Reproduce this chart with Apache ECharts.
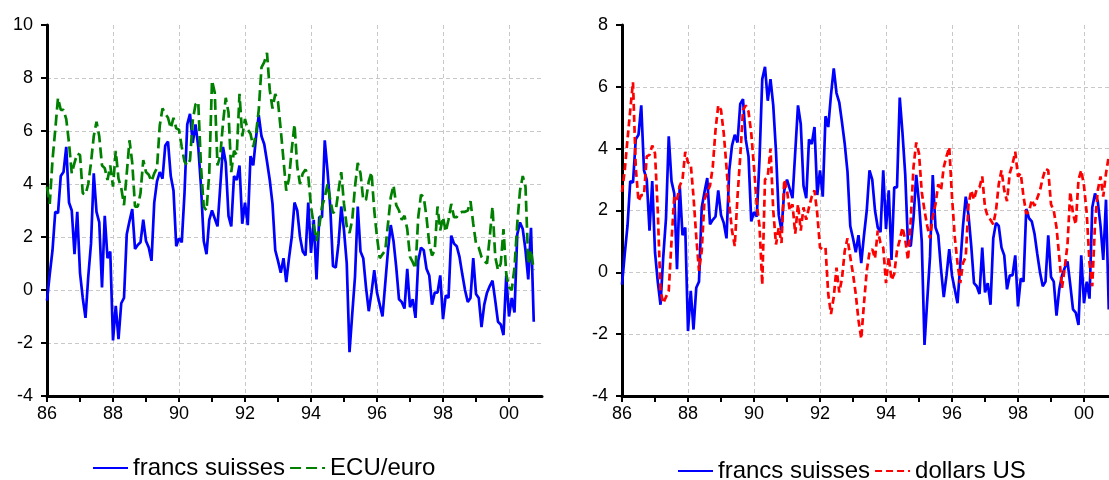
<!DOCTYPE html>
<html>
<head>
<meta charset="utf-8">
<title>francs suisses / ECU-euro / dollars US</title>
<script src="https://cdn.jsdelivr.net/npm/echarts@6.0.0/dist/echarts.min.js"></script>
<style>
	html, body{
		margin: 0;
		padding: 0;
		background: #fff;
	}
	#main{
		width: 1109px;
		height: 480px;
	}
</style>
</head>
<body>
<div id="main"></div>
<script type="text/javascript">
// séries mensuelles, janvier 1986 -> octobre 2000 (178 mois)
var startYear = 86;

var chf = [-0.4,0.6,1.5,2.95,2.9,4.3,4.45,5.4,3.3,3.0,
	1.35,2.95,0.65,-0.3,-1.05,0.5,1.75,4.4,2.95,2.55,
	0.1,2.8,1.2,1.45,-1.9,-0.6,-1.85,-0.5,-0.3,2.1,
	2.6,3.05,1.55,1.7,1.8,2.65,1.85,1.6,1.1,3.3,
	4.1,4.45,4.2,5.45,5.6,4.3,3.75,1.65,1.95,1.8,
	3.65,6.25,6.65,5.55,6.25,5.4,3.9,1.85,1.35,2.65,
	3.0,2.7,2.4,3.9,5.4,4.8,2.8,2.4,4.3,4.15,
	4.7,2.5,3.3,2.45,5.05,4.7,5.75,6.6,5.8,5.5,
	4.85,4.15,3.25,1.5,1.1,0.65,1.2,0.3,1.2,2.0,
	3.3,3.0,2.0,1.45,1.3,3.3,1.4,2.65,0.4,2.75,
	2.75,5.65,4.5,3.15,0.9,0.85,1.75,3.15,2.25,1.0,
	-2.35,-0.9,0.5,3.15,1.45,1.2,0.1,-0.8,-0.1,0.75,
	-0.1,-0.55,-1.0,0.25,1.5,2.45,1.85,0.85,-0.35,-0.45,
	-0.7,0.8,-0.65,-0.35,-1.05,1.1,1.6,1.5,0.8,0.55,
	-0.55,-0.1,-0.1,0.55,-1.1,-0.2,-0.3,2.05,1.75,1.65,
	1.25,0.6,0.0,-0.45,-0.3,1.2,-0.15,-0.3,-1.4,-0.55,
	-0.1,0.15,0.35,-0.4,-1.2,-1.3,-1.7,0.55,-1.0,-0.3,
	-0.85,2.1,2.55,2.3,1.5,0.4,2.35,-1.2];

var ecu = [3.9,3.25,4.9,6.05,7.25,6.8,6.8,6.45,5.55,4.4,
	4.8,5.15,5.1,3.65,3.6,4.0,4.8,5.8,6.35,5.8,
	4.7,4.6,4.15,4.7,3.9,5.25,4.2,3.85,3.2,4.4,
	5.65,4.8,3.15,3.15,3.65,4.9,4.45,4.35,4.1,4.4,
	4.6,6.2,6.85,6.65,6.5,6.1,6.5,6.1,6.05,5.4,
	4.85,4.7,4.9,6.4,7.0,7.1,4.65,3.15,3.0,4.4,
	7.9,7.45,4.7,5.05,6.3,7.25,6.7,4.45,5.25,5.1,
	7.4,5.8,6.45,6.05,5.9,5.4,5.9,6.8,8.4,8.6,
	8.95,7.55,6.85,7.4,7.1,6.05,4.9,3.75,4.2,5.3,
	6.25,4.65,4.0,4.4,4.55,4.3,3.15,2.45,1.85,2.4,
	3.15,3.5,4.0,3.4,2.9,3.0,3.75,4.45,3.25,2.4,
	2.15,2.65,3.9,4.8,4.4,3.4,3.4,4.1,4.45,3.0,
	2.0,1.2,1.35,1.5,2.5,3.5,3.95,3.2,3.0,2.65,
	2.8,2.3,1.25,1.05,0.8,2.75,3.6,3.5,2.75,1.75,
	1.3,1.5,3.15,2.25,2.75,2.2,2.65,3.25,2.75,2.75,
	2.9,2.95,2.95,3.0,3.35,2.5,1.75,1.6,1.25,1.1,
	1.0,2.0,3.15,1.25,0.75,1.0,2.3,0.6,0.1,0.0,
	0.85,2.5,3.75,4.3,3.9,1.0,1.5,0.75];

var usd = [2.6,3.3,4.3,5.25,6.15,3.4,2.3,2.5,2.5,3.75,
	3.8,4.1,3.85,2.0,-0.6,-1.0,-0.8,-0.6,1.0,2.45,
	2.35,2.8,3.0,3.9,3.55,3.5,2.45,1.15,0.05,0.7,
	2.35,2.6,2.8,3.4,4.6,5.4,5.25,4.5,3.4,2.2,
	1.35,0.85,2.45,3.75,5.25,5.4,5.2,4.5,3.4,2.2,
	1.5,-0.4,3.0,3.1,4.0,2.0,0.9,1.45,0.95,3.0,
	2.65,2.0,2.2,1.25,2.2,1.35,2.1,1.7,2.1,2.45,
	2.65,1.9,0.8,0.75,0.8,-0.7,-1.35,-0.8,0.15,-0.65,
	-0.2,0.7,1.1,0.5,-0.05,-0.7,-1.55,-2.15,-1.0,0.05,
	0.65,0.75,0.45,1.35,0.95,0.8,-0.35,0.5,-0.25,-0.05,
	0.7,1.05,1.45,1.05,0.4,1.7,3.4,4.2,3.85,2.6,
	2.0,1.5,1.1,1.8,2.2,2.85,2.65,3.4,3.75,4.05,
	2.45,1.15,0.3,-0.35,0.3,0.5,2.2,2.65,2.35,2.7,
	2.75,3.1,2.1,1.8,1.7,1.55,2.0,2.85,3.3,2.65,
	2.3,3.2,3.5,3.9,3.1,3.2,2.45,1.9,1.95,2.35,
	2.15,2.4,2.65,3.05,3.35,3.3,2.2,2.0,1.45,0.5,
	-0.5,0.15,0.9,2.6,1.9,1.55,3.0,3.3,2.8,1.9,
	0.3,-0.45,1.55,2.65,3.1,2.45,3.2,3.75];

// graduations de l'axe des années
var tickYears = [86,87,88,89,90,91,92,93,94,95,96,97,98,99,100];
var labelYears = [86,88,90,92,94,96,98,100];
var labelText = ['86','88','90','92','94','96','98','00'];

var font = 'Liberation Sans, Arial, sans-serif';
var myChart;

// mois -> [année, valeur]
function toPairs(values){
	var out = [];
	for(var i = 0; i < values.length; i++){
		out.push([startYear + i / 12, values[i]]);
	}
	return out;
}

function xAxisFor(idx){
	return {
		type: 'value',
		gridIndex: idx,
		min: 86,
		max: 101,
		interval: 1,
		axisLine: { show: true, onZero: false, lineStyle: { color: '#000', width: 3 } },
		axisTick: { show: true, length: 6, customValues: tickYears, lineStyle: { color: '#000', width: 2 } },
		axisLabel: {
			margin: 9,
			fontSize: 18,
			color: '#000',
			fontFamily: font,
			formatter: function(v){
				var k = labelYears.indexOf(Math.round(v));
				return k >= 0 ? labelText[k] : '';
			}
		},
		splitLine: { show: true, lineStyle: { color: ['#c8c8c8', 'transparent'], type: [4, 3], width: 1 } }
	};
}

function yAxisFor(idx, max, lineColors){
	return {
		type: 'value',
		gridIndex: idx,
		min: -4,
		max: max,
		interval: 2,
		axisLine: { show: true, onZero: false, lineStyle: { color: '#000', width: 3 } },
		axisTick: { show: true, length: 6, lineStyle: { color: '#000', width: 2 } },
		axisLabel: { margin: 14, fontSize: 18, color: '#000', fontFamily: font },
		splitLine: { show: true, lineStyle: { color: lineColors, type: [4, 3], width: 1 } }
	};
}

function lineSerie(name, values, idx, color, dash){
	return {
		name: name,
		type: 'line',
		xAxisIndex: idx,
		yAxisIndex: idx,
		data: toPairs(values),
		symbol: 'none',
		lineStyle: { color: color, width: 2.7, type: dash },
		itemStyle: { color: color }
	};
}

function legendFor(left, top, names){
	return {
		left: left,
		top: top,
		padding: 0,
		itemWidth: 35,
		itemHeight: 14,
		itemGap: 4,
		data: names,
		// pas de rond sur l'icône, seulement le trait
		itemStyle: { opacity: 0 },
		textStyle: { fontSize: 24, color: '#000', fontFamily: font }
	};
}

function drawChart(){
	myChart = echarts.init(document.getElementById('main'));
	var g = '#c8c8c8', t = 'transparent';
	var option = {
		animation: false,
		backgroundColor: '#fff',
		grid: [
			{ left: 47, top: 25, width: 495, height: 371, containLabel: false, outerBoundsMode: 'none' },
			{ left: 622, top: 25, width: 495, height: 371, containLabel: false, outerBoundsMode: 'none' }
		],
		xAxis: [ xAxisFor(0), xAxisFor(1) ],
		yAxis: [
			yAxisFor(0, 10, [t, g, g, g, g, g, g, t]),
			yAxisFor(1, 8, [t, g, g, g, g, g, t])
		],
		legend: [
			legendFor(92, 456, ['francs suisses', 'ECU/euro']),
			legendFor(677, 459, ['francs suisses', 'dollars US'])
		],
		series: [
			lineSerie('francs suisses', chf, 0, '#0000ff', 'solid'),
			lineSerie('ECU/euro', ecu, 0, '#008000', [11, 5]),
			lineSerie('francs suisses', chf, 1, '#0000ff', 'solid'),
			lineSerie('dollars US', usd, 1, '#ff0000', [7, 4])
		]
	};
	myChart.setOption(option);
}

drawChart();
</script>
</body>
</html>
